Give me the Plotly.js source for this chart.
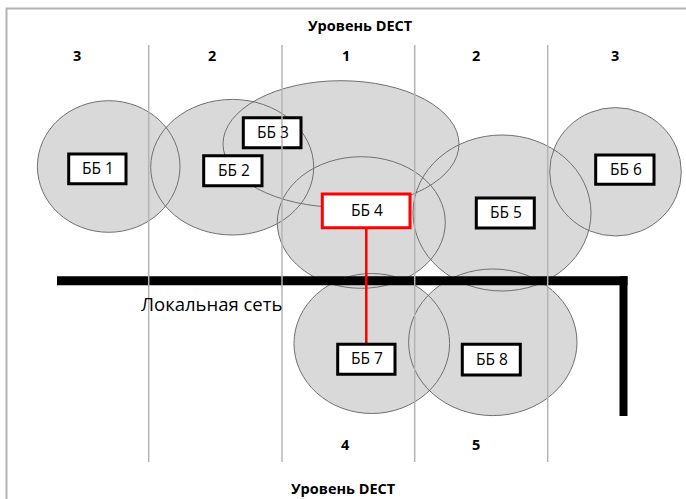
<!DOCTYPE html>
<html>
<head>
<meta charset="utf-8">
<script src="https://cdn.plot.ly/plotly-3.0.1.min.js"></script>
<style>html,body{margin:0;padding:0;background:#fff;}#chart{width:686px;height:499px;}</style>
</head>
<body>
<div id="chart"></div>
<script>
// Base stations (ББ) – coverage ellipses and label boxes
const stationLabels = ["ББ 1", "ББ 2", "ББ 3", "ББ 4", "ББ 5", "ББ 6", "ББ 7", "ББ 8"];
const cellCx = [108.7, 232.2, 341, 361.3, 502, 615.5, 371.8, 492.8];
const cellCy = [166.5, 167.2, 144, 222.5, 213, 171.8, 343.5, 342.3];
const cellRx = [71.3, 81.5, 118, 84, 89, 65.8, 77.8, 84.2];
const cellRy = [65.8, 67.8, 63.3, 65.8, 78, 64.2, 70, 73.3];
const boxX0 = [68.7, 203.7, 243.3, 322.3, 476.3, 595.7, 337.7, 462.3];
const boxX1 = [126, 262, 301, 410, 534.3, 654, 395, 520.3];
const boxY0 = [154, 155.7, 117.7, 194, 198, 155, 344.3, 344.3];
const boxY1 = [183.7, 185.7, 147.7, 227.7, 228, 184.3, 374.3, 375];
const highlighted = 3; // ББ 4
// DECT level zones
const zoneBorders = [148.7, 282, 414.7, 547.7];
const topLevels = ["3", "2", "1", "2", "3"];
const topLevelX = [77, 212, 345.5, 476, 615];
const bottomLevels = ["4", "5"];
const bottomLevelX = [345.5, 476];
const levelTitle = "Уровень DECT";
// Local network bus
const lanX = [57, 623.5, 623.5];
const lanY = [280.7, 280.7, 416];
const lanLabel = "Локальная сеть";
// Red link ББ 4 -> ББ 7
const linkX = [366.3, 366.3];
const linkY = [227.7, 344.3];

const shapes = [];
// outer frame
shapes.push({type: "rect", xref: "x", yref: "y", x0: 6.5, y0: 8.5, x1: 720, y1: 540,
  line: {color: "#b4b4b4", width: 2}, fillcolor: "rgba(0,0,0,0)", layer: "above"});
// ellipse fills
for (let i = 0; i < stationLabels.length; i++) {
  shapes.push({type: "circle", xref: "x", yref: "y",
    x0: cellCx[i] - cellRx[i], x1: cellCx[i] + cellRx[i],
    y0: cellCy[i] - cellRy[i], y1: cellCy[i] + cellRy[i],
    fillcolor: "#d9d9d9", line: {width: 0}, layer: "above"});
}
// ellipse outlines
for (let i = 0; i < stationLabels.length; i++) {
  shapes.push({type: "circle", xref: "x", yref: "y",
    x0: cellCx[i] - cellRx[i], x1: cellCx[i] + cellRx[i],
    y0: cellCy[i] - cellRy[i], y1: cellCy[i] + cellRy[i],
    fillcolor: "rgba(0,0,0,0)", line: {color: "#707070", width: 1}, layer: "above"});
}
// LAN bus
shapes.push({type: "line", xref: "x", yref: "y", x0: lanX[0], y0: lanY[0], x1: lanX[1] + 4, y1: lanY[1],
  line: {color: "#000", width: 9}, layer: "above"});
shapes.push({type: "line", xref: "x", yref: "y", x0: lanX[1], y0: lanY[1] - 4.5, x1: lanX[2], y1: lanY[2],
  line: {color: "#000", width: 8}, layer: "above"});
// red link
shapes.push({type: "line", xref: "x", yref: "y", x0: linkX[0], y0: linkY[0], x1: linkX[1], y1: linkY[1],
  line: {color: "#ff0000", width: 2.5}, layer: "above"});
// boxes
for (let i = 0; i < stationLabels.length; i++) {
  shapes.push({type: "rect", xref: "x", yref: "y",
    x0: boxX0[i], x1: boxX1[i], y0: boxY0[i], y1: boxY1[i],
    fillcolor: "#ffffff", line: {color: i === highlighted ? "#ff0000" : "#000000", width: 3}, layer: "above"});
}
// zone borders
for (const zx of zoneBorders) {
  shapes.push({type: "line", xref: "x", yref: "y", x0: zx, x1: zx, y0: 45, y1: 462,
    line: {color: "#b4b4b4", width: 1.5}, layer: "above"});
}

const annotations = [];
const lblFont = {family: "Open Sans", size: 15.5, color: "#000"};
for (let i = 0; i < stationLabels.length; i++) {
  annotations.push({xref: "x", yref: "y", x: (boxX0[i] + boxX1[i]) / 2 + 1, y: (boxY0[i] + boxY1[i]) / 2 - 1,
    text: stationLabels[i], showarrow: false, font: lblFont, xanchor: "center", yanchor: "middle"});
}
const boldFont = {family: "Open Sans", size: 14.5, color: "#000", weight: "bold"};
for (let i = 0; i < topLevels.length; i++) {
  annotations.push({xref: "x", yref: "y", x: topLevelX[i], y: 55, text: "<b>" + topLevels[i] + "</b>",
    showarrow: false, font: boldFont, xanchor: "center", yanchor: "middle"});
}
for (let i = 0; i < bottomLevels.length; i++) {
  annotations.push({xref: "x", yref: "y", x: bottomLevelX[i], y: 444, text: "<b>" + bottomLevels[i] + "</b>",
    showarrow: false, font: boldFont, xanchor: "center", yanchor: "middle"});
}
annotations.push({xref: "x", yref: "y", x: 360, y: 25, text: "<b>" + levelTitle + "</b>",
  showarrow: false, font: boldFont, xanchor: "center", yanchor: "middle"});
annotations.push({xref: "x", yref: "y", x: 343.5, y: 488, text: "<b>" + levelTitle + "</b>",
  showarrow: false, font: boldFont, xanchor: "center", yanchor: "middle"});
annotations.push({xref: "x", yref: "y", x: 211, y: 303, text: lanLabel,
  showarrow: false, font: {family: "Open Sans", size: 18.5, color: "#000"}, xanchor: "center", yanchor: "middle"});

const layout = {
  width: 686, height: 499,
  margin: {l: 0, r: 0, t: 0, b: 0},
  paper_bgcolor: "#fff", plot_bgcolor: "#fff",
  xaxis: {range: [0, 686], visible: false, fixedrange: true},
  yaxis: {range: [499, 0], visible: false, fixedrange: true},
  showlegend: false,
  shapes: shapes,
  annotations: annotations
};
Plotly.newPlot("chart", [{x: [], y: [], type: "scatter", mode: "markers"}], layout, {staticPlot: true, displayModeBar: false});
</script>
</body>
</html>
